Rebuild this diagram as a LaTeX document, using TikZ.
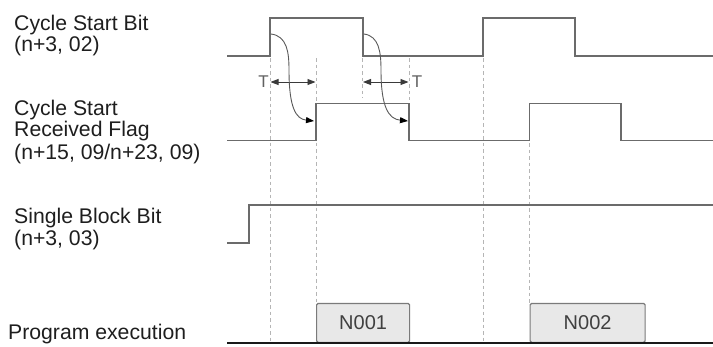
\documentclass[tikz,border=0pt]{standalone}
\usepackage{fontspec}
\setmainfont{Liberation Sans}
\usetikzlibrary{arrows.meta}
\definecolor{sigc}{HTML}{6B6B6B}
\definecolor{guidec}{HTML}{B5B5B5}
\definecolor{txtc}{HTML}{1E1E1E}
\definecolor{boxc}{HTML}{7A7A7A}
\definecolor{boxf}{HTML}{E8E8E8}
\definecolor{arrc}{HTML}{3A3A3A}
\begin{document}
\begin{tikzpicture}[x=1pt,y=-1pt,
  sig/.style={draw=sigc, line width=1.6pt, line join=miter},
  guide/.style={draw=guidec, line width=0.9pt, dash pattern=on 3.5pt off 3pt},
  lbl/.style={anchor=base west, inner sep=0pt, text=txtc, font=\fontsize{21.2}{24}\selectfont},
  tlbl/.style={inner sep=0pt, text=arrc!80, font=\fontsize{17}{19}\selectfont},
  blk/.style={draw=boxc, fill=boxf, line width=1.2pt, rounded corners=1.5pt, inner sep=0pt, text=txtc!85, font=\fontsize{20}{22}\selectfont},
  cause/.style={draw=arrc!85, line width=0.9pt, -{Triangle[length=8pt,width=6pt,color=black]}},
  tspan/.style={draw=arrc, line width=0.9pt, {Triangle[length=8pt,width=6pt]}-{Triangle[length=8pt,width=6pt]}},
  base/.style={draw=black!90, line width=2.5pt}
]
\useasboundingbox (0,0) rectangle (713,346);

% labels
\node[lbl] (csa) at (14,30.5) {Cycle Start Bit};
\node[lbl] (csb) at (14,51) {(n+3, 02)};
\node[lbl] (rfa) at (14,115) {Cycle Start};
\node[lbl] (rfb) at (14,136.5) {Received Flag};
\node[lbl] (rfc) at (14,159) {(n+15, 09/n+23, 09)};
\node[lbl] (sba) at (14,223.3) {Single Block Bit};
\node[lbl] (sbb) at (14,245.5) {(n+3, 03)};
\node[lbl] (pe) at (8,339.3) {Program execution};

% guide lines
\draw[guide] (270,58) -- (270,343);
\draw[guide] (316,58) -- (316,304);
\draw[guide] (362.5,58) -- (362.5,98);
\draw[guide] (409,58) -- (409,100);
\draw[guide] (483,58) -- (483,343);
\draw[guide] (529.5,143) -- (529.5,304);

% signals
\draw[sig] (227,56) -- (270,56) -- (270,18) -- (363,18) -- (363,56) -- (483,56) -- (483,18) -- (575,18) -- (575,56) -- (713,56);
\draw[sig] (227,140.5) -- (316,140.5) -- (316,103.5) -- (409,103.5) -- (409,140.5) -- (529.5,140.5) -- (529.5,103.5) -- (621,103.5) -- (621,140.5) -- (713,140.5);
\draw[sig] (227,243) -- (249,243) -- (249,205) -- (713,205);

% program execution blocks
\node[blk, minimum width=93pt, minimum height=39pt, anchor=south west] (n1) at (316,343) {N001};
\node[blk, minimum width=115pt, minimum height=39pt, anchor=south west] (n2) at (529.5,343) {N002};
\coordinate (pl) at (227,343);
\coordinate (pr) at (713,343);
\draw[base] (pl) -- (pr);

% T spans
\coordinate (t1a) at (270.5,82);
\coordinate (t1b) at (315.5,82);
\coordinate (t2a) at (363,82);
\coordinate (t2b) at (408.5,82);
\draw[tspan] (t1a) -- (t1b);
\draw[tspan] (t2a) -- (t2b);
\node[tlbl] (tl) at (263.5,82) {T};
\node[tlbl] (tr) at (417,82) {T};

% cause arrows
\coordinate (c1s) at (271,34);
\coordinate (c1e) at (314,121);
\coordinate (c2s) at (364,34);
\coordinate (c2e) at (408,121);
\draw[cause] (c1s) .. controls (287,36) and (289,52) .. (289,70) .. controls (289,108) and (296,119) .. (c1e);
\draw[cause] (c2s) .. controls (379,36) and (381,52) .. (381,70) .. controls (381,108) and (389,119) .. (c2e);
\end{tikzpicture}
\end{document}
